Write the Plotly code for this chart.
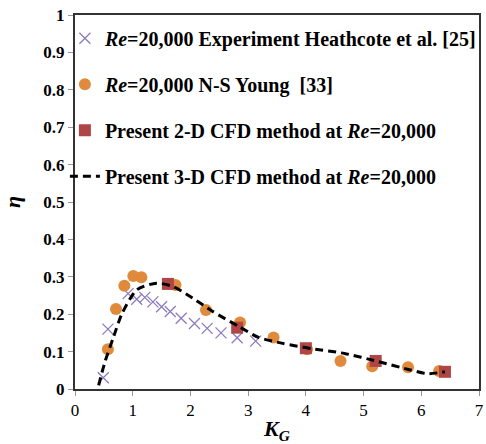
import plotly.graph_objects as go

# Heathcote experiment (crosses)
exp_x = [0.49, 0.57, 0.92, 1.07, 1.21, 1.35, 1.50, 1.65, 1.84, 2.07, 2.29, 2.53, 2.81, 3.13]
exp_y = [0.030, 0.160, 0.255, 0.240, 0.245, 0.233, 0.220, 0.207, 0.189, 0.175, 0.162, 0.150, 0.137, 0.128]

# N-S Young (circles)
ns_x = [0.57, 0.71, 0.855, 1.01, 1.15, 1.74, 2.27, 2.86, 3.44, 4.02, 4.60, 5.15, 5.77, 6.31]
ns_y = [0.106, 0.214, 0.276, 0.302, 0.299, 0.278, 0.211, 0.178, 0.138, 0.106, 0.075, 0.061, 0.058, 0.048]

# Present 2-D CFD (squares)
cfd2_x = [1.61, 2.81, 4.00, 5.21, 6.41]
cfd2_y = [0.281, 0.164, 0.109, 0.075, 0.046]

# Present 3-D CFD (dashed line)
cfd3_x = [0.41, 0.52, 0.67, 0.81, 1.07, 1.41, 1.70, 2.04, 2.38, 2.84, 3.18, 3.60, 4.10, 4.67, 5.24, 5.81, 6.10, 6.41]
cfd3_y = [0.010, 0.073, 0.140, 0.200, 0.265, 0.283, 0.274, 0.243, 0.208, 0.167, 0.138, 0.122, 0.108, 0.095, 0.074, 0.051, 0.041, 0.046]

x_ticks = [0, 1, 2, 3, 4, 5, 6, 7]
y_ticks = [0, 0.1, 0.2, 0.3, 0.4, 0.5, 0.6, 0.7, 0.8, 0.9, 1]
y_tick_text = ["0", "0.1", "0.2", "0.3", "0.4", "0.5", "0.6", "0.7", "0.8", "0.9", "1"]

font_main = "Liberation Serif"

fig = go.Figure()
fig.add_trace(go.Scatter(
    x=exp_x, y=exp_y, mode="markers", legendgroup="a",
    name="<b><i>Re</i>=20,000 Experiment Heathcote et al. [25]</b>",
    marker=dict(symbol="x-thin", size=11, line=dict(color="#8C7BBF", width=1.3), color="#8C7BBF"),
))
fig.add_trace(go.Scatter(
    x=ns_x, y=ns_y, mode="markers", legendgroup="b",
    name="<b><i>Re</i>=20,000 N-S Young  [33]</b>",
    marker=dict(symbol="circle", size=12, color="#E08A3C"),
))
fig.add_trace(go.Scatter(
    x=cfd2_x, y=cfd2_y, mode="markers", legendgroup="c",
    name="<b>Present 2-D CFD method at <i>Re</i>=20,000</b>",
    marker=dict(symbol="square", size=12, color="#B04545"),
))
fig.add_trace(go.Scatter(
    x=cfd3_x, y=cfd3_y, mode="lines", legendgroup="d", line_shape="spline",
    name="<b>Present 3-D CFD method at <i>Re</i>=20,000</b>",
    line=dict(color="black", width=3, dash="8px,5px", smoothing=0.7),
))

fig.update_layout(
    width=486, height=444,
    margin=dict(l=75, r=2, t=15, b=55),
    plot_bgcolor="white", paper_bgcolor="white",
    font=dict(family=font_main, size=15, color="black"),
    showlegend=True,
    legend=dict(x=-0.025, y=0.99, xanchor="left", yanchor="top",
                bgcolor="rgba(0,0,0,0)", borderwidth=0,
                font=dict(family=font_main, size=20, color="black"),
                tracegroupgap=17, itemwidth=30),
    xaxis=dict(range=[0, 7], tickvals=x_ticks, showgrid=False, zeroline=False,
               showline=True, mirror=True, linecolor="#333333", linewidth=2,
               ticks="outside", ticklen=5, tickcolor="#999999",
               tickprefix="<b>", ticksuffix="</b>", ticklabeloverflow="allow",
               tickfont=dict(family=font_main, size=17, color="black"),
               title=dict(text="<b><i>K<sub>G</sub></i></b>", font=dict(family=font_main, size=22), standoff=4)),
    yaxis=dict(range=[0, 1], tickvals=y_ticks, ticktext=["<b>%s</b>" % t for t in y_tick_text],
               showgrid=False, zeroline=False,
               showline=True, mirror=True, linecolor="#333333", linewidth=2,
               ticks="outside", ticklen=5, tickcolor="#999999",
               tickfont=dict(family=font_main, size=17, color="black"),
               title=dict(text="<b><i>η</i></b>", font=dict(family=font_main, size=22), standoff=20)),
)

fig.write_html("out.html")
